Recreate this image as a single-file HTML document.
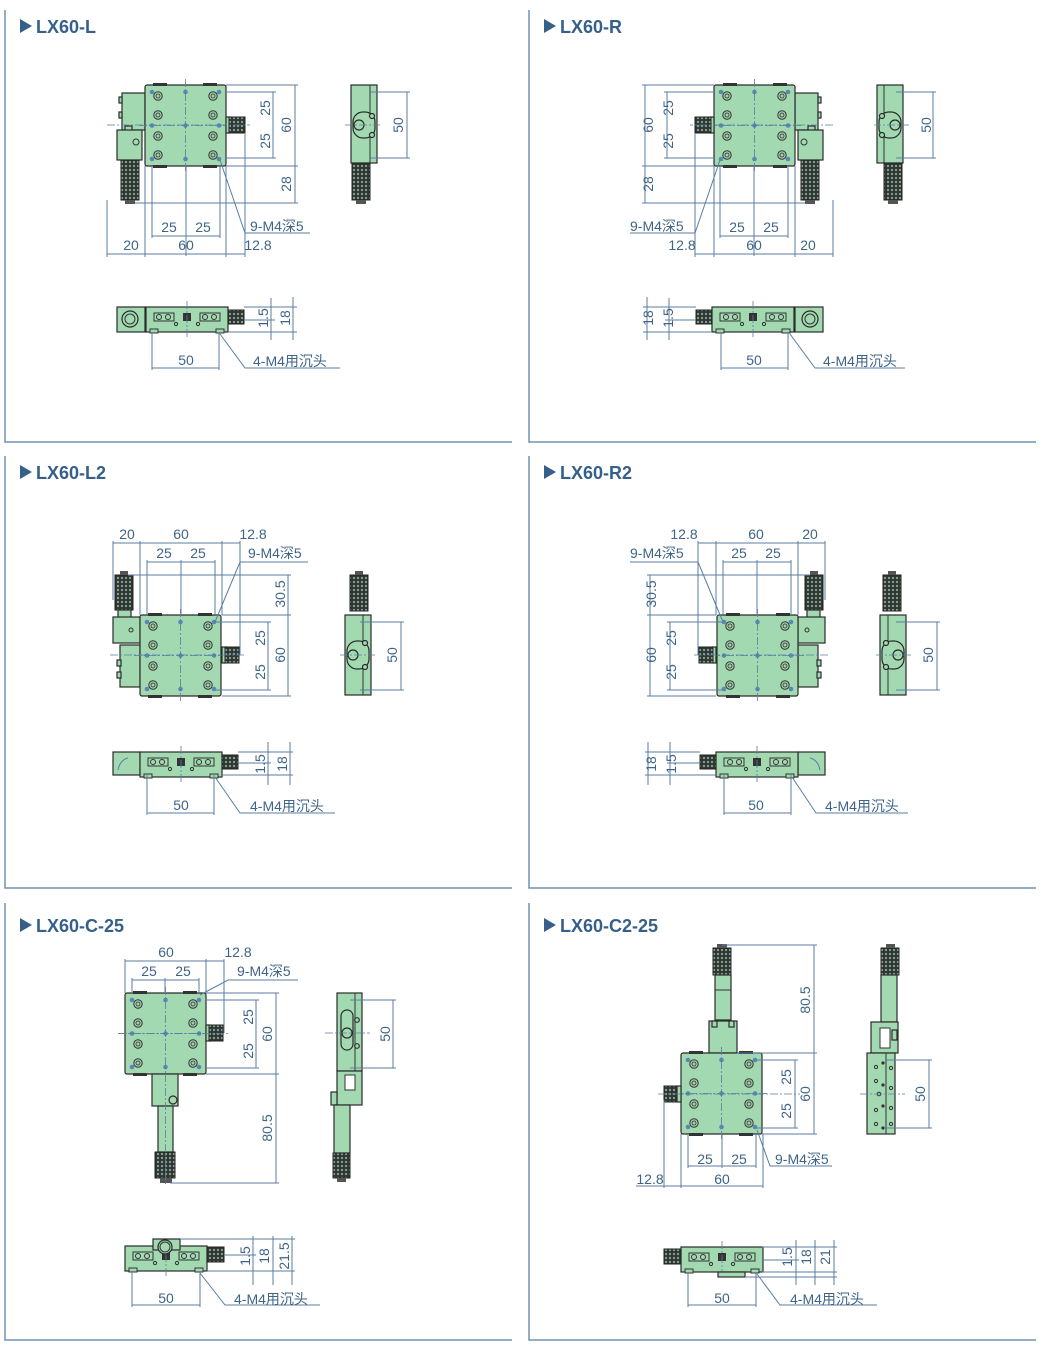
<!DOCTYPE html>
<html><head><meta charset="utf-8"><style>
html,body{margin:0;padding:0;background:#fff;}
svg{display:block}
.b{fill:#a3d9b1;stroke:#2b2b2b;stroke-width:1.2}
.k{fill:url(#kn);stroke:#222;stroke-width:1}
.d{stroke:#5a7ea2;stroke-width:1;fill:none}
.c{stroke:#5a7ea2;stroke-width:0.8;fill:none;stroke-dasharray:8 2 2 2}
.t{fill:#3f6487;font-family:"Liberation Sans","Noto Sans CJK SC",sans-serif;font-size:14px}
.ti{fill:#36608a;font-family:"Liberation Sans",sans-serif;font-size:18px;font-weight:bold}
.p{stroke:#7090b0;stroke-width:1.5;fill:none}
</style></head><body>
<svg width="1041" height="1365" viewBox="0 0 1041 1365" xmlns="http://www.w3.org/2000/svg">
<defs>
<pattern id="kn" width="4" height="4" patternUnits="userSpaceOnUse"><rect width="4" height="4" fill="#2f3833"/><circle cx="2" cy="2" r="1.1" fill="#8fa59a"/></pattern>
<g id="ho"><circle r="4.2" fill="#9fd0ab" stroke="#333" stroke-width="1"/><circle r="2" fill="none" stroke="#333" stroke-width="0.8"/></g>
<circle id="bd" r="2.3" fill="#5b86b5"/>
<g id="stg">
 <rect x="0" y="0" width="81" height="81" rx="2" class="b"/>
 <rect x="8" y="-2" width="14" height="3" fill="#333"/><rect x="58" y="-2" width="14" height="3" fill="#333"/>
 <rect x="8" y="80" width="14" height="3" fill="#333"/><rect x="58" y="80" width="14" height="3" fill="#333"/>
 <use href="#ho" x="13" y="11"/><use href="#ho" x="68" y="11"/><use href="#ho" x="13" y="30"/><use href="#ho" x="68" y="30"/>
 <use href="#ho" x="13" y="51"/><use href="#ho" x="68" y="51"/><use href="#ho" x="13" y="70"/><use href="#ho" x="68" y="70"/>
 <use href="#bd" x="7" y="7"/><use href="#bd" x="40.5" y="7"/><use href="#bd" x="74" y="7"/>
 <use href="#bd" x="7" y="40.5"/><use href="#bd" x="40.5" y="40.5"/><use href="#bd" x="74" y="40.5"/>
 <use href="#bd" x="7" y="74"/><use href="#bd" x="40.5" y="74"/><use href="#bd" x="74" y="74"/>
 <line x1="40.5" y1="-6" x2="40.5" y2="87" class="c"/><line x1="-6" y1="40.5" x2="87" y2="40.5" class="c"/>
</g>
<g id="bot"><rect x="0" y="0" width="82" height="25" class="b"/>
 <rect x="8" y="6" width="20" height="8" fill="#a3d9b1" stroke="#333"/><circle cx="13" cy="10" r="2.5" fill="none" stroke="#333"/><circle cx="22" cy="10" r="2.5" fill="none" stroke="#333"/>
 <rect x="54" y="6" width="20" height="8" fill="#a3d9b1" stroke="#333"/><circle cx="59" cy="10" r="2.5" fill="none" stroke="#333"/><circle cx="68" cy="10" r="2.5" fill="none" stroke="#333"/>
 <rect x="37" y="6" width="8" height="8" fill="#333"/><circle cx="30" cy="17" r="1.6" fill="none" stroke="#333"/><circle cx="52" cy="17" r="1.6" fill="none" stroke="#333"/>
 <rect x="4" y="22" width="8" height="4" fill="#a3d9b1" stroke="#333"/><rect x="70" y="22" width="8" height="4" fill="#a3d9b1" stroke="#333"/>
 <line x1="41" y1="-6" x2="41" y2="30" class="c"/></g>
</defs>

<!-- panel borders -->
<polyline points="5,10 5,442 512,442" class="p"/><polyline points="529,10 529,442 1036,442" class="p"/>
<polyline points="5,456 5,888 512,888" class="p"/><polyline points="529,456 529,888 1036,888" class="p"/>
<polyline points="5,903 5,1340 512,1340" class="p"/><polyline points="529,903 529,1340 1036,1340" class="p"/>

<!-- titles -->
<polygon points="20,19 20,33 32,26" fill="#36608a"/><text x="36" y="33" class="ti">LX60-L</text>
<polygon points="544,19 544,33 556,26" fill="#36608a"/><text x="560" y="33" class="ti">LX60-R</text>
<polygon points="20,465 20,479 32,472" fill="#36608a"/><text x="36" y="479" class="ti">LX60-L2</text>
<polygon points="544,465 544,479 556,472" fill="#36608a"/><text x="560" y="479" class="ti">LX60-R2</text>
<polygon points="20,918 20,932 32,925" fill="#36608a"/><text x="36" y="932" class="ti">LX60-C-25</text>
<polygon points="544,918 544,932 556,925" fill="#36608a"/><text x="560" y="932" class="ti">LX60-C2-25</text>

<!-- ===== Panel 1 shapes (L) ===== -->
<g id="P1">
 <rect x="122" y="93" width="23" height="37" class="b"/><rect x="119" y="97" width="3" height="6" class="b"/><rect x="119" y="112" width="3" height="6" class="b"/>
 <rect x="125" y="126" width="7" height="5" class="b"/>
 <rect x="117" y="130" width="25" height="30" class="b"/><circle cx="136" cy="142" r="3" fill="none" stroke="#333"/>
 <rect x="121" y="160" width="18" height="40" class="k"/><rect x="125" y="200" width="10" height="4" fill="#555"/>
 <use href="#stg" x="145" y="85"/>
 <rect x="226" y="117" width="4" height="16" class="b"/><rect x="229" y="117" width="16" height="16" class="k"/>
 <rect x="117" y="307" width="28" height="25" class="b"/><circle cx="130" cy="319" r="8" class="b"/><circle cx="130" cy="319" r="5" fill="none" stroke="#333"/>
 <use href="#bot" x="146" y="307"/>
 <rect x="228" y="310" width="16" height="14" class="k"/>
 <line x1="273" y1="92" x2="273" y2="158" class="d"/><line x1="226" y1="92" x2="276" y2="92" class="d"/><line x1="226" y1="158" x2="276" y2="158" class="d"/>
 <line x1="295" y1="85" x2="295" y2="203" class="d"/><line x1="226" y1="85" x2="298" y2="85" class="d"/><line x1="226" y1="166" x2="298" y2="166" class="d"/><line x1="135" y1="203" x2="298" y2="203" class="d"/>
 <line x1="152" y1="236" x2="220" y2="236" class="d"/><line x1="152" y1="166" x2="152" y2="238" class="d"/><line x1="220" y1="166" x2="220" y2="238" class="d"/><line x1="186" y1="166" x2="186" y2="256" class="d"/>
 <line x1="107" y1="254" x2="245" y2="254" class="d"/><line x1="107" y1="200" x2="107" y2="257" class="d"/><line x1="145" y1="166" x2="145" y2="257" class="d"/><line x1="226" y1="166" x2="226" y2="257" class="d"/><line x1="245" y1="133" x2="245" y2="257" class="d"/>
 <line x1="107" y1="125" x2="250" y2="125" class="c"/>
 <polyline points="220,160 245,233 310,233" class="d"/>
 <line x1="271" y1="298" x2="271" y2="340" class="d"/><line x1="293" y1="297" x2="293" y2="340" class="d"/>
 <line x1="244" y1="307" x2="297" y2="307" class="d"/><line x1="244" y1="320" x2="275" y2="320" class="d"/><line x1="228" y1="332" x2="297" y2="332" class="d"/>
 <line x1="152" y1="368" x2="219" y2="368" class="d"/><line x1="152" y1="332" x2="152" y2="370" class="d"/><line x1="219" y1="332" x2="219" y2="370" class="d"/>
</g>
<polyline points="220,334 245,368 340,368" class="d"/>
<g id="S1">
 <rect x="351" y="85" width="26" height="78" class="b"/><line x1="370" y1="85" x2="370" y2="163" stroke="#333"/>
 <rect x="353" y="112" width="22" height="26" rx="10" class="b"/><circle cx="359" cy="125" r="5" class="b"/>
 <circle cx="372" cy="116" r="2.5" class="b"/><circle cx="372" cy="135" r="2.5" class="b"/>
 <rect x="352" y="163" width="18" height="37" class="k"/><rect x="356" y="200" width="10" height="4" fill="#555"/>
 <line x1="345" y1="125" x2="380" y2="125" class="c"/>
</g>
<line x1="407" y1="92" x2="407" y2="158" class="d"/><line x1="370" y1="92" x2="410" y2="92" class="d"/><line x1="370" y1="158" x2="410" y2="158" class="d"/>
<text class="t" transform="rotate(-90 270 108)" x="270" y="108" text-anchor="middle">25</text>
<text class="t" transform="rotate(-90 270 141)" x="270" y="141" text-anchor="middle">25</text>
<text class="t" transform="rotate(-90 291 125)" x="291" y="125" text-anchor="middle">60</text>
<text class="t" transform="rotate(-90 291 184)" x="291" y="184" text-anchor="middle">28</text>
<text class="t" transform="rotate(-90 403 125)" x="403" y="125" text-anchor="middle">50</text>
<text class="t" x="169" y="232" text-anchor="middle">25</text><text class="t" x="203" y="232" text-anchor="middle">25</text>
<text class="t" x="131" y="250" text-anchor="middle">20</text><text class="t" x="186" y="250" text-anchor="middle">60</text><text class="t" x="258" y="250" text-anchor="middle">12.8</text>
<text class="t" x="250" y="231">9-M4深5</text>
<text class="t" transform="rotate(-90 268 318)" x="268" y="318" text-anchor="middle">1.5</text>
<text class="t" transform="rotate(-90 290 318)" x="290" y="318" text-anchor="middle">18</text>
<text class="t" x="186" y="365" text-anchor="middle">50</text><text class="t" x="253" y="366">4-M4用沉头</text>

<!-- ===== Panel 2 (R) ===== -->
<use href="#P1" transform="translate(940,0) scale(-1,1)"/>
<use href="#S1" transform="translate(1254,0) scale(-1,1)"/>
<polyline points="790,334 815,368 905,368" class="d"/>
<g transform="translate(526,0)"><line x1="407" y1="92" x2="407" y2="158" class="d"/><line x1="370" y1="92" x2="410" y2="92" class="d"/><line x1="370" y1="158" x2="410" y2="158" class="d"/></g>
<text class="t" transform="rotate(-90 673 108)" x="673" y="108" text-anchor="middle">25</text>
<text class="t" transform="rotate(-90 673 141)" x="673" y="141" text-anchor="middle">25</text>
<text class="t" transform="rotate(-90 653 125)" x="653" y="125" text-anchor="middle">60</text>
<text class="t" transform="rotate(-90 653 184)" x="653" y="184" text-anchor="middle">28</text>
<text class="t" transform="rotate(-90 931 125)" x="931" y="125" text-anchor="middle">50</text>
<text class="t" x="737" y="232" text-anchor="middle">25</text><text class="t" x="771" y="232" text-anchor="middle">25</text>
<text class="t" x="682" y="250" text-anchor="middle">12.8</text><text class="t" x="754" y="250" text-anchor="middle">60</text><text class="t" x="808" y="250" text-anchor="middle">20</text>
<text class="t" x="630" y="231">9-M4深5</text>
<text class="t" transform="rotate(-90 653 318)" x="653" y="318" text-anchor="middle">18</text>
<text class="t" transform="rotate(-90 673 318)" x="673" y="318" text-anchor="middle">1.5</text>
<text class="t" x="754" y="365" text-anchor="middle">50</text><text class="t" x="823" y="366">4-M4用沉头</text>

<!-- ===== Panel 3 (L2) ===== -->
<g id="P3">
 <rect x="115" y="575" width="18" height="35" class="k"/><rect x="120" y="571" width="8" height="4" fill="#555"/>
 <rect x="118" y="610" width="13" height="8" class="b"/>
 <rect x="113" y="617" width="27" height="26" class="b"/><circle cx="131" cy="630" r="2" fill="none" stroke="#333"/>
 <rect x="120" y="645" width="20" height="42" class="b"/><rect x="117" y="660" width="4" height="6" class="b"/><rect x="117" y="672" width="4" height="6" class="b"/>
 <use href="#stg" x="140" y="615"/>
 <rect x="222" y="647" width="4" height="16" class="b"/><rect x="225" y="647" width="14" height="16" class="k"/>
 <rect x="113" y="752" width="27" height="23" class="b"/><path d="M118,770 Q120,760 128,758" class="d" stroke="#333"/>
 <use href="#bot" x="140" y="752"/>
 <rect x="222" y="755" width="16" height="14" class="k"/>
 <line x1="113" y1="543" x2="240" y2="543" class="d"/><line x1="113" y1="541" x2="113" y2="600" class="d"/><line x1="140" y1="541" x2="140" y2="615" class="d"/><line x1="222" y1="541" x2="222" y2="615" class="d"/><line x1="240" y1="541" x2="240" y2="655" class="d"/>
 <line x1="147" y1="562" x2="215" y2="562" class="d"/><line x1="147" y1="560" x2="147" y2="615" class="d"/><line x1="181" y1="560" x2="181" y2="615" class="d"/><line x1="215" y1="560" x2="215" y2="615" class="d"/>
 <line x1="288" y1="575" x2="288" y2="696" class="d"/><line x1="128" y1="575" x2="291" y2="575" class="d"/><line x1="222" y1="615" x2="291" y2="615" class="d"/><line x1="222" y1="696" x2="291" y2="696" class="d"/>
 <line x1="268" y1="622" x2="268" y2="690" class="d"/><line x1="215" y1="622" x2="271" y2="622" class="d"/><line x1="215" y1="690" x2="271" y2="690" class="d"/>
 <line x1="110" y1="655" x2="245" y2="655" class="c"/>
 <polyline points="215,622 240,562 308,562" class="d"/>
 <line x1="268" y1="742" x2="268" y2="785" class="d"/><line x1="290" y1="742" x2="290" y2="785" class="d"/>
 <line x1="238" y1="752" x2="293" y2="752" class="d"/><line x1="238" y1="763" x2="271" y2="763" class="d"/><line x1="222" y1="775" x2="293" y2="775" class="d"/>
 <line x1="147" y1="813" x2="214" y2="813" class="d"/><line x1="147" y1="775" x2="147" y2="815" class="d"/><line x1="214" y1="775" x2="214" y2="815" class="d"/>
</g>
<polyline points="215,777 240,813 335,813" class="d"/>
<g id="S3">
 <rect x="350" y="575" width="18" height="36" class="k"/><rect x="355" y="571" width="8" height="4" fill="#555"/>
 <rect x="345" y="615" width="26" height="80" class="b"/><line x1="363" y1="615" x2="363" y2="695" stroke="#333"/>
 <rect x="347" y="641" width="22" height="28" rx="10" class="b"/><circle cx="353" cy="655" r="5" class="b"/>
 <circle cx="365" cy="643" r="2.5" class="b"/><circle cx="365" cy="667" r="2.5" class="b"/>
 <line x1="340" y1="655" x2="375" y2="655" class="c"/>
</g>
<line x1="401" y1="622" x2="401" y2="690" class="d"/><line x1="360" y1="622" x2="404" y2="622" class="d"/><line x1="360" y1="690" x2="404" y2="690" class="d"/>
<text class="t" x="127" y="539" text-anchor="middle">20</text><text class="t" x="181" y="539" text-anchor="middle">60</text><text class="t" x="253" y="539" text-anchor="middle">12.8</text>
<text class="t" x="164" y="558" text-anchor="middle">25</text><text class="t" x="198" y="558" text-anchor="middle">25</text>
<text class="t" x="248" y="558">9-M4深5</text>
<text class="t" transform="rotate(-90 285 594)" x="285" y="594" text-anchor="middle">30.5</text>
<text class="t" transform="rotate(-90 265 638)" x="265" y="638" text-anchor="middle">25</text>
<text class="t" transform="rotate(-90 265 672)" x="265" y="672" text-anchor="middle">25</text>
<text class="t" transform="rotate(-90 285 655)" x="285" y="655" text-anchor="middle">60</text>
<text class="t" transform="rotate(-90 397 655)" x="397" y="655" text-anchor="middle">50</text>
<text class="t" transform="rotate(-90 265 764)" x="265" y="764" text-anchor="middle">1.5</text>
<text class="t" transform="rotate(-90 287 764)" x="287" y="764" text-anchor="middle">18</text>
<text class="t" x="181" y="810" text-anchor="middle">50</text><text class="t" x="250" y="811">4-M4用沉头</text>

<!-- ===== Panel 4 (R2) ===== -->
<use href="#P3" transform="translate(938,0) scale(-1,1)"/>
<use href="#S3" transform="translate(1251,0) scale(-1,1)"/>
<polyline points="792,777 816,813 908,813" class="d"/>
<g transform="translate(536,0)"><line x1="401" y1="622" x2="401" y2="690" class="d"/><line x1="360" y1="622" x2="404" y2="622" class="d"/><line x1="360" y1="690" x2="404" y2="690" class="d"/></g>
<text class="t" x="684" y="539" text-anchor="middle">12.8</text><text class="t" x="756" y="539" text-anchor="middle">60</text><text class="t" x="810" y="539" text-anchor="middle">20</text>
<text class="t" x="739" y="558" text-anchor="middle">25</text><text class="t" x="773" y="558" text-anchor="middle">25</text>
<text class="t" x="630" y="558">9-M4深5</text>
<text class="t" transform="rotate(-90 656 594)" x="656" y="594" text-anchor="middle">30.5</text>
<text class="t" transform="rotate(-90 676 638)" x="676" y="638" text-anchor="middle">25</text>
<text class="t" transform="rotate(-90 676 672)" x="676" y="672" text-anchor="middle">25</text>
<text class="t" transform="rotate(-90 656 655)" x="656" y="655" text-anchor="middle">60</text>
<text class="t" transform="rotate(-90 933 655)" x="933" y="655" text-anchor="middle">50</text>
<text class="t" transform="rotate(-90 656 764)" x="656" y="764" text-anchor="middle">18</text>
<text class="t" transform="rotate(-90 676 764)" x="676" y="764" text-anchor="middle">1.5</text>
<text class="t" x="756" y="810" text-anchor="middle">50</text><text class="t" x="825" y="811">4-M4用沉头</text>

<!-- ===== Panel 5 (C-25) ===== -->
<use href="#stg" x="125" y="993"/>
<rect x="206" y="1025" width="4" height="16" class="b"/><rect x="209" y="1025" width="14" height="16" class="k"/>
<rect x="152" y="1074" width="26" height="32" class="b"/><circle cx="173" cy="1100" r="4" class="b"/>
<rect x="158" y="1106" width="15" height="46" class="b"/>
<rect x="155" y="1152" width="20" height="26" class="k"/><rect x="160" y="1178" width="12" height="5" fill="#555"/>
<line x1="165.5" y1="1074" x2="165.5" y2="1185" class="c"/>
<rect x="337" y="993" width="25" height="78" class="b"/><line x1="355" y1="993" x2="355" y2="1071" stroke="#333"/>
<rect x="341" y="1010" width="12" height="40" rx="6" class="b"/><circle cx="347" cy="1033" r="5" class="b"/>
<circle cx="357" cy="1020" r="2.3" class="b"/><circle cx="357" cy="1046" r="2.3" class="b"/>
<rect x="337" y="1071" width="25" height="34" class="b"/><rect x="345" y="1075" width="10" height="15" fill="#fff" stroke="#333"/>
<rect x="331" y="1092" width="6" height="13" class="b"/>
<rect x="334" y="1105" width="16" height="48" class="b"/><rect x="333" y="1153" width="17" height="25" class="k"/><rect x="337" y="1178" width="9" height="4" fill="#555"/>
<line x1="325" y1="1033" x2="370" y2="1033" class="c"/>
<use href="#bot" x="125" y="1246"/>
<rect x="153" y="1239" width="27" height="11" class="b"/><circle cx="165" cy="1247" r="7" class="b"/><circle cx="165" cy="1247" r="5" fill="none" stroke="#333"/>
<rect x="207" y="1247" width="17" height="15" class="k"/>
<line x1="125" y1="961" x2="224" y2="961" class="d"/><line x1="125" y1="959" x2="125" y2="993" class="d"/><line x1="206" y1="959" x2="206" y2="993" class="d"/><line x1="224" y1="959" x2="224" y2="1033" class="d"/>
<line x1="132" y1="980" x2="199" y2="980" class="d"/><line x1="132" y1="978" x2="132" y2="993" class="d"/><line x1="165" y1="978" x2="165" y2="993" class="d"/><line x1="199" y1="978" x2="199" y2="993" class="d"/>
<line x1="256" y1="1000" x2="256" y2="1068" class="d"/><line x1="206" y1="1000" x2="259" y2="1000" class="d"/><line x1="206" y1="1068" x2="259" y2="1068" class="d"/>
<line x1="276" y1="993" x2="276" y2="1183" class="d"/><line x1="206" y1="993" x2="279" y2="993" class="d"/><line x1="206" y1="1074" x2="279" y2="1074" class="d"/><line x1="170" y1="1183" x2="279" y2="1183" class="d"/>
<line x1="118" y1="1033.5" x2="228" y2="1033.5" class="c"/>
<polyline points="200,995 228,980 298,980" class="d"/>
<line x1="393" y1="1000" x2="393" y2="1068" class="d"/><line x1="350" y1="1000" x2="396" y2="1000" class="d"/><line x1="350" y1="1068" x2="396" y2="1068" class="d"/>
<line x1="253" y1="1236" x2="253" y2="1285" class="d"/><line x1="273" y1="1236" x2="273" y2="1285" class="d"/><line x1="292" y1="1236" x2="292" y2="1285" class="d"/>
<line x1="180" y1="1239" x2="295" y2="1239" class="d"/><line x1="224" y1="1255" x2="256" y2="1255" class="d"/><line x1="207" y1="1271" x2="295" y2="1271" class="d"/>
<line x1="132" y1="1305" x2="200" y2="1305" class="d"/><line x1="132" y1="1271" x2="132" y2="1307" class="d"/><line x1="200" y1="1271" x2="200" y2="1307" class="d"/>
<polyline points="200,1273 225,1305 320,1305" class="d"/>
<text class="t" x="166" y="957" text-anchor="middle">60</text><text class="t" x="238" y="957" text-anchor="middle">12.8</text>
<text class="t" x="149" y="976" text-anchor="middle">25</text><text class="t" x="183" y="976" text-anchor="middle">25</text>
<text class="t" x="237" y="976">9-M4深5</text>
<text class="t" transform="rotate(-90 253 1017)" x="253" y="1017" text-anchor="middle">25</text>
<text class="t" transform="rotate(-90 253 1051)" x="253" y="1051" text-anchor="middle">25</text>
<text class="t" transform="rotate(-90 272 1034)" x="272" y="1034" text-anchor="middle">60</text>
<text class="t" transform="rotate(-90 272 1128)" x="272" y="1128" text-anchor="middle">80.5</text>
<text class="t" transform="rotate(-90 390 1034)" x="390" y="1034" text-anchor="middle">50</text>
<text class="t" transform="rotate(-90 250 1256)" x="250" y="1256" text-anchor="middle">1.5</text>
<text class="t" transform="rotate(-90 269 1256)" x="269" y="1256" text-anchor="middle">18</text>
<text class="t" transform="rotate(-90 289 1256)" x="289" y="1256" text-anchor="middle">21.5</text>
<text class="t" x="166" y="1303" text-anchor="middle">50</text><text class="t" x="234" y="1304">4-M4用沉头</text>

<!-- ===== Panel 6 (C2-25) ===== -->
<rect x="713" y="948" width="18" height="27" class="k"/><rect x="717" y="944" width="10" height="4" fill="#555"/>
<rect x="715" y="975" width="16" height="45" class="b"/><line x1="715" y1="990" x2="731" y2="990" stroke="#333"/>
<rect x="709" y="1021" width="28" height="32" class="b"/><rect x="712" y="1021" width="5" height="6" class="b"/><rect x="729" y="1021" width="5" height="6" class="b"/>
<use href="#stg" x="681" y="1053"/>
<rect x="664" y="1086" width="14" height="16" class="k"/><rect x="677" y="1086" width="4" height="16" class="b"/>
<rect x="881" y="948" width="18" height="27" class="k"/><rect x="886" y="944" width="9" height="4" fill="#555"/>
<rect x="881" y="975" width="16" height="47" class="b"/>
<rect x="871" y="1022" width="27" height="31" class="b"/><rect x="880" y="1028" width="10" height="20" fill="#fff" stroke="#333"/><rect x="892" y="1030" width="5" height="10" class="b"/>
<rect x="867" y="1053" width="28" height="81" class="b"/><line x1="886" y1="1053" x2="886" y2="1134" stroke="#333"/>
<circle cx="876" cy="1067" r="1.6" fill="none" stroke="#333"/><circle cx="876" cy="1081" r="1.6" fill="none" stroke="#333"/><circle cx="876" cy="1110" r="1.6" fill="none" stroke="#333"/><circle cx="876" cy="1124" r="1.6" fill="none" stroke="#333"/>
<circle cx="883" cy="1063" r="1.6" fill="#333"/><circle cx="883" cy="1085" r="1.6" fill="#333"/><circle cx="883" cy="1106" r="1.6" fill="#333"/><circle cx="883" cy="1128" r="1.6" fill="#333"/>
<circle cx="891" cy="1068" r="1.6" fill="none" stroke="#333"/><circle cx="891" cy="1088" r="1.6" fill="none" stroke="#333"/><circle cx="891" cy="1108" r="1.6" fill="none" stroke="#333"/><circle cx="891" cy="1124" r="1.6" fill="none" stroke="#333"/>
<circle cx="879" cy="1094" r="1.8" fill="none" stroke="#333"/>
<use href="#bot" x="681" y="1247"/>
<rect x="664" y="1249" width="17" height="15" class="k"/><rect x="718" y="1272" width="27" height="5" class="b"/>
<line x1="722" y1="945" x2="817" y2="945" class="d"/><line x1="814" y1="945" x2="814" y2="1134" class="d"/>
<line x1="737" y1="1053" x2="817" y2="1053" class="d"/><line x1="762" y1="1134" x2="817" y2="1134" class="d"/>
<line x1="795" y1="1060" x2="795" y2="1128" class="d"/><line x1="756" y1="1060" x2="798" y2="1060" class="d"/><line x1="756" y1="1128" x2="798" y2="1128" class="d"/>
<line x1="658" y1="1094" x2="800" y2="1094" class="c"/>
<line x1="688" y1="1166" x2="756" y2="1166" class="d"/><line x1="688" y1="1134" x2="688" y2="1168" class="d"/><line x1="722" y1="1134" x2="722" y2="1168" class="d"/><line x1="756" y1="1134" x2="756" y2="1168" class="d"/>
<line x1="636" y1="1186" x2="763" y2="1186" class="d"/><line x1="664" y1="1100" x2="664" y2="1188" class="d"/><line x1="681" y1="1134" x2="681" y2="1188" class="d"/><line x1="763" y1="1134" x2="763" y2="1188" class="d"/>
<polyline points="757,1130 770,1166 832,1166" class="d"/>
<line x1="929" y1="1060" x2="929" y2="1128" class="d"/><line x1="885" y1="1060" x2="932" y2="1060" class="d"/><line x1="885" y1="1128" x2="932" y2="1128" class="d"/>
<line x1="860" y1="1094" x2="905" y2="1094" class="c"/>
<line x1="796" y1="1240" x2="796" y2="1285" class="d"/><line x1="815" y1="1240" x2="815" y2="1285" class="d"/><line x1="834" y1="1240" x2="834" y2="1285" class="d"/>
<line x1="762" y1="1247" x2="837" y2="1247" class="d"/><line x1="762" y1="1260" x2="799" y2="1260" class="d"/><line x1="762" y1="1272" x2="837" y2="1272" class="d"/><line x1="745" y1="1277" x2="837" y2="1277" class="d"/>
<line x1="688" y1="1305" x2="756" y2="1305" class="d"/><line x1="688" y1="1272" x2="688" y2="1307" class="d"/><line x1="756" y1="1272" x2="756" y2="1307" class="d"/>
<polyline points="757,1274 780,1305 877,1305" class="d"/>
<text class="t" transform="rotate(-90 810 1000)" x="810" y="1000" text-anchor="middle">80.5</text>
<text class="t" transform="rotate(-90 791 1077)" x="791" y="1077" text-anchor="middle">25</text>
<text class="t" transform="rotate(-90 791 1111)" x="791" y="1111" text-anchor="middle">25</text>
<text class="t" transform="rotate(-90 810 1094)" x="810" y="1094" text-anchor="middle">60</text>
<text class="t" transform="rotate(-90 925 1094)" x="925" y="1094" text-anchor="middle">50</text>
<text class="t" x="705" y="1164" text-anchor="middle">25</text><text class="t" x="739" y="1164" text-anchor="middle">25</text>
<text class="t" x="775" y="1164">9-M4深5</text>
<text class="t" x="650" y="1184" text-anchor="middle">12.8</text><text class="t" x="722" y="1184" text-anchor="middle">60</text>
<text class="t" transform="rotate(-90 792 1257)" x="792" y="1257" text-anchor="middle">1.5</text>
<text class="t" transform="rotate(-90 811 1257)" x="811" y="1257" text-anchor="middle">18</text>
<text class="t" transform="rotate(-90 830 1257)" x="830" y="1257" text-anchor="middle">21</text>
<text class="t" x="722" y="1303" text-anchor="middle">50</text><text class="t" x="790" y="1304">4-M4用沉头</text>
</svg>
</body></html>
